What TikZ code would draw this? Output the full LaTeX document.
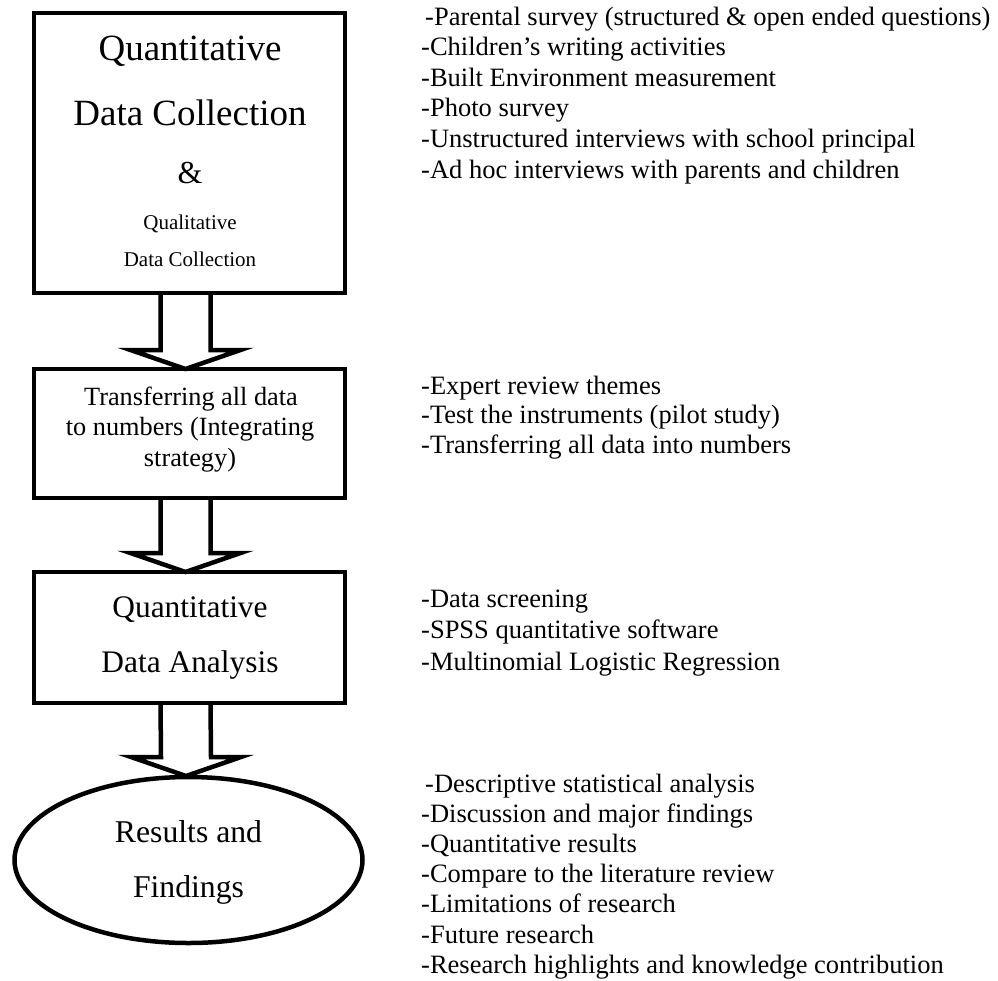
\documentclass[tikz,border=0pt]{standalone}
\usepackage{fontspec}
\setmainfont{Liberation Serif}
\usetikzlibrary{calc,shapes.geometric}
\newcommand\blockarrow[2]{%
  \draw[barrow] ($(#1)+(-25,0)$) -- ($(#2)+(-25,-19)$) -- ($(#2)+(-55,-19)$) -- (#2)
    -- ($(#2)+(55,-19)$) -- ($(#2)+(25,-19)$) -- ($(#1)+(25,0)$);}
\begin{document}
\begin{tikzpicture}[x=1pt,y=-1pt,
  box/.style={draw, line width=4.5pt, rectangle, outer sep=0pt, inner sep=0pt},
  oval/.style={draw, line width=4.5pt, ellipse, outer sep=0pt, inner sep=0pt},
  barrow/.style={draw, line width=4.5pt, line join=miter, miter limit=10},
  lbl/.style={anchor=base, inner sep=0pt},
  listtxt/.style={anchor=base west, inner sep=0pt, font=\fontsize{26.5}{30}\selectfont},
]
\useasboundingbox (0,0) rectangle (998,980);

% boxes
\node[box, minimum width=311pt, minimum height=280pt] (q1) at (189.5,153) {};
\node[box, minimum width=311pt, minimum height=129pt] (q2) at (189.5,433.5) {};
\node[box, minimum width=311pt, minimum height=131pt] (q3) at (189.5,637.5) {};
\node[oval, minimum width=348pt, minimum height=166pt] (ov) at (188.5,860) {};

% box texts
\node[lbl, font=\fontsize{37}{40}\selectfont] (t11) at (190,60) {Quantitative};
\node[lbl, font=\fontsize{37}{40}\selectfont] (t12) at (190,125) {Data Collection};
\node[lbl, font=\fontsize{32}{36}\selectfont] (t13) at (190,183) {\&};
\node[lbl, font=\fontsize{21}{24}\selectfont] (t14) at (190,229) {Qualitative};
\node[lbl, font=\fontsize{21}{24}\selectfont] (t15) at (190,266) {Data Collection};

\node[lbl, font=\fontsize{26.3}{30}\selectfont] (t21) at (191,405) {Transferring all data};
\node[lbl, font=\fontsize{26.3}{30}\selectfont] (t22) at (190,435.5) {to numbers (Integrating};
\node[lbl, font=\fontsize{26.3}{30}\selectfont] (t23) at (190,466) {strategy)};

\node[lbl, font=\fontsize{31.4}{34}\selectfont] (t31) at (190,617) {Quantitative};
\node[lbl, font=\fontsize{31.4}{34}\selectfont] (t32) at (190,672) {Data Analysis};

\node[lbl, font=\fontsize{31.7}{34}\selectfont] (t41) at (188.5,842) {Results and};
\node[lbl, font=\fontsize{31.7}{34}\selectfont] (t42) at (188.5,897) {Findings};

% block arrows
\coordinate (a1s) at ($(q1.south)+(-4,0)$);
\coordinate (a1e) at ($(q2.north)+(-4,0)$);
\coordinate (a2s) at ($(q2.south)+(-4,0)$);
\coordinate (a2e) at ($(q3.north)+(-4,0)$);
\coordinate (a3s) at ($(q3.south)+(-4,0)$);
\coordinate (a3e) at ($(ov.north)+(-2.5,-1)$);
\blockarrow{a1s}{a1e}
\blockarrow{a2s}{a2e}
\blockarrow{a3s}{a3e}

% lists
\node[listtxt] (la1) at (425,25) {-Parental survey (structured \& open ended questions)};
\foreach \txt [count=\i] in {{-Children’s writing activities},{-Built Environment measurement},{-Photo survey},{-Unstructured interviews with school principal},{-Ad hoc interviews with parents and children}}
  \node[listtxt] (la\i b) at (421,{25+30.6*\i}) {\txt};

\foreach \txt [count=\i] in {{-Expert review themes},{-Test the instruments (pilot study)},{-Transferring all data into numbers}}
  \node[listtxt] (lb\i) at (421,{394+29.5*(\i-1)}) {\txt};

\foreach \txt [count=\i] in {{-Data screening},{-SPSS quantitative software},{-Multinomial Logistic Regression}}
  \node[listtxt] (lc\i) at (421,{607+31.5*(\i-1)}) {\txt};

\node[listtxt] (ld1) at (425,792) {-Descriptive statistical analysis};
\foreach \txt [count=\i] in {{-Discussion and major findings},{-Quantitative results},{-Compare to the literature review},{-Limitations of research},{-Future research},{-Research highlights and knowledge contribution}}
  \node[listtxt] (ld\i b) at (421,{792+30.2*\i}) {\txt};
\end{tikzpicture}
\end{document}
